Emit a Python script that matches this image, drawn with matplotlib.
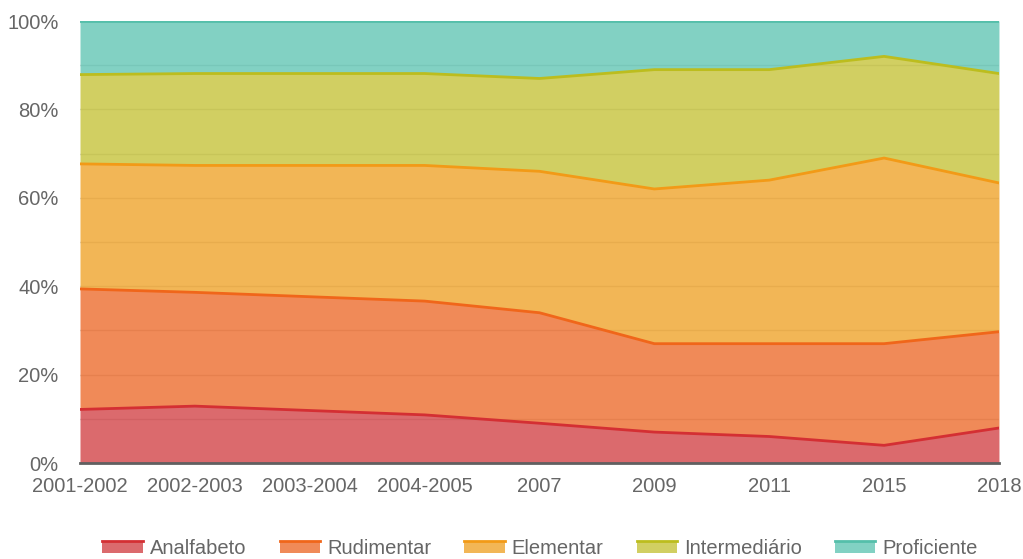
import numpy as np
import matplotlib
matplotlib.use("Agg")
import matplotlib.pyplot as plt
from matplotlib.patches import Rectangle
from matplotlib.lines import Line2D
from matplotlib.legend_handler import HandlerBase

plt.rcParams["font.family"] = ["Liberation Sans", "DejaVu Sans"]

years = ["2001-2002", "2002-2003", "2003-2004", "2004-2005", "2007",
         "2009", "2011", "2015", "2018"]
analfabeto = [12, 13, 12, 11, 9, 7, 6, 4, 8]
rudimentar = [27, 26, 26, 26, 25, 20, 21, 23, 22]
elementar = [28, 29, 30, 31, 32, 35, 37, 42, 34]
intermediario = [20, 21, 21, 21, 21, 27, 25, 23, 25]
proficiente = [12, 12, 12, 12, 13, 11, 11, 8, 12]

names = ["Analfabeto", "Rudimentar", "Elementar", "Intermediário", "Proficiente"]
base_cols = ["#cf383c", "#eb6320", "#ee9e1e", "#c2bf2e", "#58c2af"]
line_cols = ["#d42f33", "#f0661a", "#f29a17", "#bcbd1e", "#55bfaa"]


class AreaHandler(HandlerBase):
    """legend swatch: translucent box with a solid line on top"""
    def __init__(self, fill, line):
        super().__init__()
        self.fill, self.line = fill, line

    def create_artists(self, legend, orig, xd, yd, w, h, fs, trans):
        r = Rectangle((-xd, -yd), w, h, facecolor=self.fill, alpha=0.75,
                      edgecolor="none", transform=trans)
        l = Line2D([-xd, -xd + w], [-yd + h, -yd + h], color=self.line,
                   lw=2, transform=trans)
        return [r, l]


data = np.array([analfabeto, rudimentar, elementar, intermediario, proficiente],
                dtype=float)
pct = data / data.sum(axis=0) * 100
cum = np.cumsum(pct, axis=0)
x = np.arange(len(years))

fig = plt.figure(figsize=(10.23, 5.59), dpi=100)
ax = fig.add_axes([0.0782, 0.1717, 0.8983, 0.7907])

lower = np.zeros(len(years))
for i in range(len(names)):
    ax.fill_between(x, lower, cum[i], color=base_cols[i], alpha=0.75,
                    linewidth=0, zorder=2)
    ax.plot(x, cum[i], color=line_cols[i], lw=2, zorder=3)
    lower = cum[i]

ax.set_xlim(0, len(years) - 1)
ax.set_ylim(0, 100)
ax.set_yticks(np.arange(0, 101, 10), minor=True)
ax.set_yticks(np.arange(0, 101, 20))
ax.set_yticklabels([f"{v}%" for v in range(0, 101, 20)])
ax.set_xticks(x)
ax.set_xticklabels(years)
ax.grid(axis="y", which="both", color="#d8d8d8", lw=1, zorder=1)
ax.set_axisbelow(True)
ax.tick_params(axis="both", which="both", length=0, labelsize=14.5,
               labelcolor="#666666")
ax.tick_params(axis="y", pad=15.5)
ax.tick_params(axis="x", pad=10)
for s in ["top", "right", "left"]:
    ax.spines[s].set_visible(False)
ax.spines["bottom"].set_color("#606060")
ax.spines["bottom"].set_linewidth(2)
ax.spines["bottom"].set_zorder(5)

handles = [Rectangle((0, 0), 1, 1) for _ in names]
hmap = {h: AreaHandler(base_cols[i], line_cols[i]) for i, h in enumerate(handles)}
leg = fig.legend(handles, names, handler_map=hmap, loc="center",
                 bbox_to_anchor=(0.528, 0.018), ncol=5, frameon=False,
                 fontsize=14.5, handlelength=2.0, handleheight=0.55,
                 columnspacing=1.65, handletextpad=0.35, borderpad=0)
for t in leg.get_texts():
    t.set_color("#666666")

fig.savefig("out.png", dpi=100)
